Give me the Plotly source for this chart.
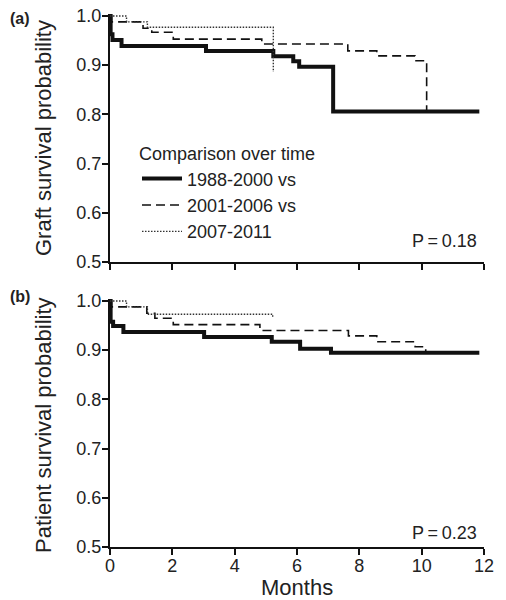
import plotly.graph_objects as go

# ---- data (months, survival probability) ----
graft_t_8800 = [0, 0.02, 0.08, 0.37, 3.08, 5.24, 5.88, 6.07, 7.16, 11.85]
graft_s_8800 = [1.0, 0.963, 0.951, 0.939, 0.929, 0.918, 0.908, 0.897, 0.806, 0.806]
graft_t_0106 = [0, 0.05, 1.06, 1.34, 2.03, 4.87, 7.63, 8.56, 9.79, 10.16]
graft_s_0106 = [1.0, 0.988, 0.975, 0.967, 0.953, 0.943, 0.929, 0.919, 0.909, 0.806]
graft_t_0711 = [0, 0.53, 1.2, 5.24]
graft_s_0711 = [1.0, 0.988, 0.977, 0.886]

pat_t_8800 = [0, 0.02, 0.1, 0.43, 3.02, 5.19, 6.1, 7.09, 11.85]
pat_s_8800 = [1.0, 0.958, 0.949, 0.937, 0.927, 0.917, 0.903, 0.895, 0.895]
pat_t_0106 = [0, 0.05, 1.18, 1.44, 2.03, 4.81, 7.65, 8.56, 9.79, 10.13]
pat_s_0106 = [1.0, 0.988, 0.975, 0.965, 0.952, 0.940, 0.929, 0.917, 0.907, 0.898]
pat_t_0711 = [0, 0.53, 1.2, 5.22]
pat_s_0711 = [1.0, 0.988, 0.973, 0.966]

series_names = ["1988-2000 vs", "2001-2006 vs", "2007-2011"]
x_ticks = [0, 2, 4, 6, 8, 10, 12]
y_ticks = [0.5, 0.6, 0.7, 0.8, 0.9, 1.0]
y_ticktext = ["0.5", "0.6", "0.7", "0.8", "0.9", "1.0"]
p_values = ["P\u2009=\u20090.18", "P\u2009=\u20090.23"]
panel_labels = ["(a)", "(b)"]
y_titles = ["Graft survival probability", "Patient survival probability"]
x_title = "Months"

FONT = "Liberation Sans, Arial, sans-serif"
INK = "#222222"
W, H = 506.0, 600.0

styles = [
    dict(color="#111111", width=4, dash="solid"),
    dict(color="#111111", width=1.6, dash="9px,5px"),
    dict(color="#333333", width=1.4, dash="1.5px,1.5px"),
]

fig = go.Figure()

top = [(graft_t_8800, graft_s_8800), (graft_t_0106, graft_s_0106), (graft_t_0711, graft_s_0711)]
bot = [(pat_t_8800, pat_s_8800), (pat_t_0106, pat_s_0106), (pat_t_0711, pat_s_0711)]

for i, (t, s) in enumerate(top):
    fig.add_trace(go.Scatter(x=t, y=s, mode="lines", line=dict(shape="hv", **styles[i]),
                             name=series_names[i], xaxis="x", yaxis="y", showlegend=True))
for i, (t, s) in enumerate(bot):
    fig.add_trace(go.Scatter(x=t, y=s, mode="lines", line=dict(shape="hv", **styles[i]),
                             name=series_names[i], xaxis="x2", yaxis="y2", showlegend=False))

axis_common = dict(showline=True, linewidth=2, linecolor="#111111", showgrid=False, zeroline=False,
                   ticks="outside", ticklen=6, tickwidth=2, tickcolor="#111111", automargin=False,
                   tickfont=dict(family=FONT, size=18, color=INK))

xdom = [110 / W, 484 / W]
fig.update_layout(
    width=506, height=600,
    margin=dict(l=0, r=0, t=0, b=0),
    paper_bgcolor="white", plot_bgcolor="white",
    font=dict(family=FONT, color=INK),
    xaxis=dict(domain=xdom, range=[0, 12], tickvals=x_ticks, showticklabels=False,
               anchor="y", **axis_common),
    yaxis=dict(domain=[1 - 262 / H, 1 - 14 / H], range=[0.5, 1.004], tickvals=y_ticks, ticktext=y_ticktext,
               anchor="x", ticklabelstandoff=-3, **axis_common),
    xaxis2=dict(domain=xdom, range=[0, 12], tickvals=x_ticks, anchor="y2", ticklabelstandoff=-5,
                **axis_common),
    yaxis2=dict(domain=[1 - 547 / H, 1 - 299 / H], range=[0.5, 1.004], tickvals=y_ticks, ticktext=y_ticktext,
                anchor="x2", ticklabelstandoff=-3, **axis_common),
    legend=dict(x=137 / W, y=1 - 137 / H, xanchor="left", yanchor="top",
                bgcolor="rgba(0,0,0,0)", font=dict(family=FONT, size=18, color=INK),
                title=dict(text="Comparison over time", font=dict(family=FONT, size=18, color=INK)),
                itemwidth=40, tracegroupgap=0),
    showlegend=True,
)

fig.add_annotation(x=11.85, y=0.543, xref="x", yref="y", text=p_values[0], showarrow=False,
                   xanchor="right", font=dict(family=FONT, size=18, color=INK))
fig.add_annotation(x=11.85, y=0.529, xref="x2", yref="y2", text=p_values[1], showarrow=False,
                   xanchor="right", font=dict(family=FONT, size=18, color=INK))
fig.add_annotation(x=8 / W, y=1 - 19 / H, xref="paper", yref="paper", text="<b>" + panel_labels[0] + "</b>",
                   showarrow=False, xanchor="left", yanchor="middle", font=dict(family=FONT, size=16, color=INK))
fig.add_annotation(x=8 / W, y=1 - 296 / H, xref="paper", yref="paper", text="<b>" + panel_labels[1] + "</b>",
                   showarrow=False, xanchor="left", yanchor="middle", font=dict(family=FONT, size=16, color=INK))
# axis titles
fig.add_annotation(x=43 / W, y=1 - 138 / H, xref="paper", yref="paper", text=y_titles[0], textangle=-90,
                   showarrow=False, xanchor="center", yanchor="middle", font=dict(family=FONT, size=22, color=INK))
fig.add_annotation(x=43 / W, y=1 - 425 / H, xref="paper", yref="paper", text=y_titles[1], textangle=-90,
                   showarrow=False, xanchor="center", yanchor="middle", font=dict(family=FONT, size=22, color=INK))
fig.add_annotation(x=297 / W, y=1 - 587 / H, xref="paper", yref="paper", text=x_title,
                   showarrow=False, xanchor="center", yanchor="middle", font=dict(family=FONT, size=22, color=INK))

fig.write_html("out.html", config={"displayModeBar": False},
               post_script="document.body.style.margin='0px';document.body.style.overflow='hidden';")
